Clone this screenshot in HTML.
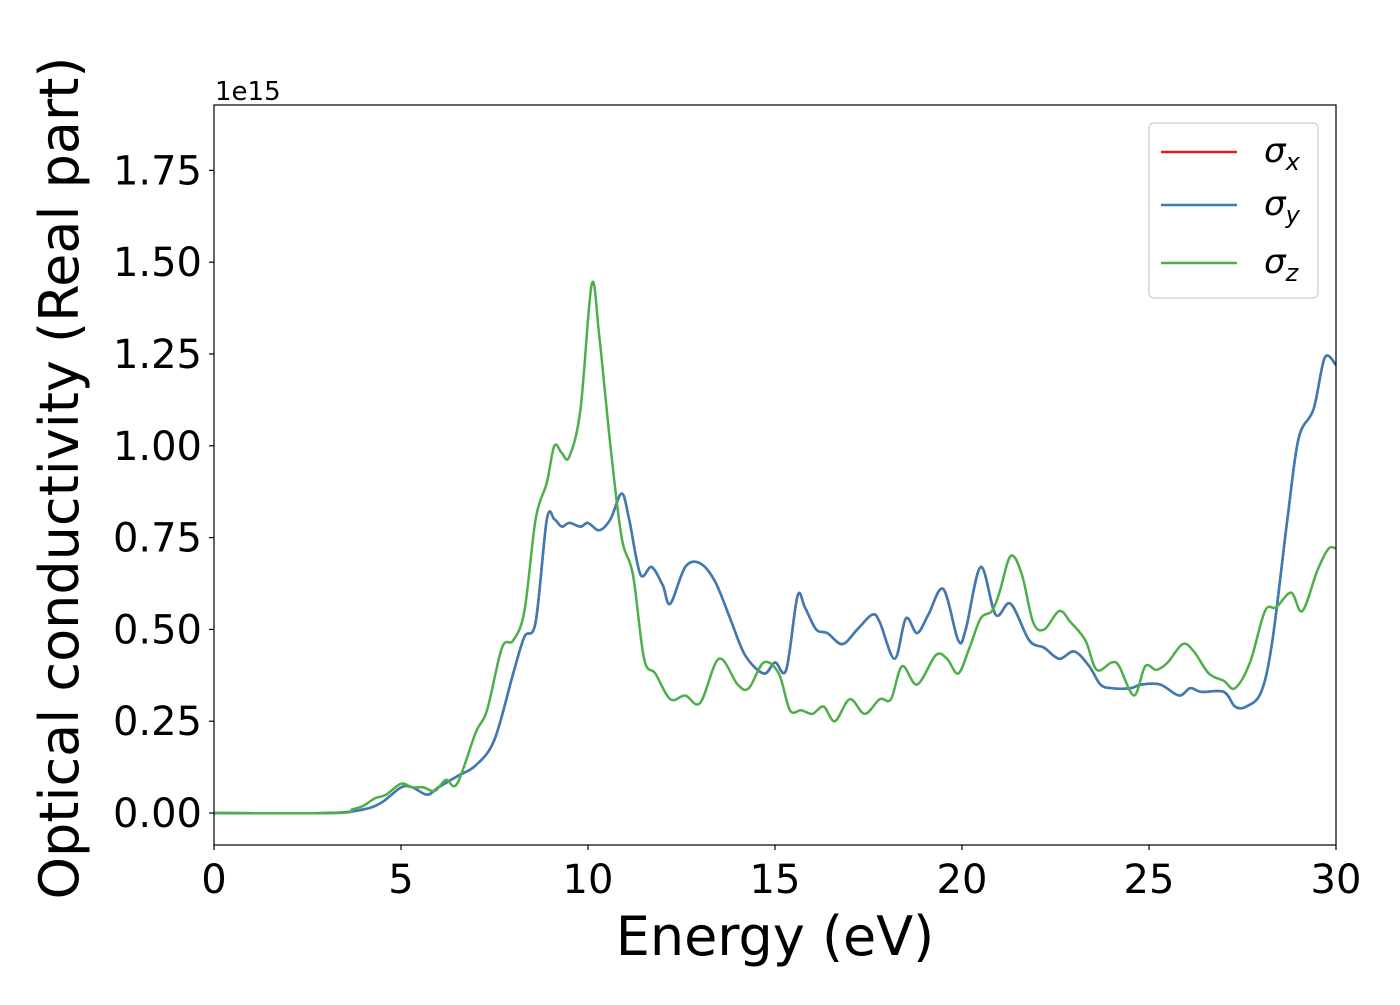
<!DOCTYPE html>
<html><head><meta charset="utf-8"><style>
body{margin:0;background:#fff;}
svg text{font-family:"DejaVu Sans","Liberation Sans",sans-serif;fill:#000;}
</style></head><body>
<svg id="chart" width="1400" height="1000" xmlns="http://www.w3.org/2000/svg">
<g id="plot"></g>
</svg>
<script>
const blueX=[0,3,4,4.5,5,5.3,5.7,6,6.5,7,7.5,8,8.3,8.6,8.9,9.1,9.3,9.5,9.8,10,10.3,10.6,10.9,11.1,11.4,11.7,12.0,12.2,12.6,13,13.4,13.8,14.2,14.7,15.0,15.3,15.6,15.8,16.1,16.4,16.8,17.2,17.6,17.8,18.2,18.5,18.8,19.1,19.5,19.9,20.1,20.5,20.9,21.3,21.8,22.2,22.6,23,23.4,23.7,24,24.5,24.8,25.3,25.8,26.1,26.4,27,27.3,27.6,28,28.3,28.7,29,29.4,29.7,30];
const blueY=[0,0,0.01,0.03,0.07,0.07,0.05,0.07,0.1,0.13,0.2,0.38,0.48,0.52,0.8,0.8,0.78,0.79,0.78,0.79,0.77,0.8,0.87,0.8,0.65,0.67,0.62,0.57,0.67,0.68,0.63,0.53,0.43,0.38,0.41,0.39,0.59,0.56,0.5,0.49,0.46,0.5,0.54,0.52,0.42,0.53,0.49,0.54,0.61,0.47,0.5,0.67,0.54,0.57,0.47,0.45,0.42,0.44,0.4,0.35,0.34,0.34,0.35,0.35,0.32,0.34,0.33,0.33,0.29,0.29,0.33,0.47,0.8,1.02,1.1,1.24,1.22];
const greenX=[0,3.3,3.7,4,4.3,4.6,5,5.3,5.6,5.9,6.2,6.5,7.0,7.3,7.7,8,8.3,8.6,8.9,9.1,9.3,9.5,9.8,10.1,10.3,10.6,10.9,11.2,11.5,11.8,12.2,12.6,13,13.5,14,14.3,14.7,15.1,15.4,15.7,16,16.3,16.6,17,17.4,17.8,18.1,18.4,18.8,19.3,19.6,19.9,20.2,20.5,20.8,21.0,21.3,21.6,21.9,22.2,22.6,22.9,23.3,23.6,24,24.2,24.6,24.9,25.2,25.5,25.9,26.2,26.6,27,27.3,27.7,28.1,28.4,28.8,29.1,29.5,29.8,30];
const greenY=[0,0,0.01,0.02,0.04,0.05,0.08,0.07,0.07,0.06,0.09,0.08,0.22,0.28,0.45,0.47,0.55,0.8,0.9,1.0,0.98,0.97,1.1,1.44,1.3,1.0,0.75,0.65,0.42,0.38,0.31,0.32,0.3,0.42,0.35,0.34,0.41,0.38,0.28,0.28,0.27,0.29,0.25,0.31,0.27,0.31,0.31,0.4,0.35,0.43,0.42,0.38,0.45,0.53,0.55,0.6,0.7,0.65,0.52,0.5,0.55,0.52,0.47,0.39,0.41,0.4,0.32,0.4,0.39,0.41,0.46,0.44,0.38,0.36,0.34,0.41,0.55,0.56,0.6,0.55,0.66,0.72,0.72];
const xTicks=[0,5,10,15,20,25,30];
const yTicks=[0,0.25,0.5,0.75,1.0,1.25,1.5,1.75];
const yTickLabels=["0.00","0.25","0.50","0.75","1.00","1.25","1.50","1.75"];

const L=214,R=1336,T=105,B=845,xMin=0,xMax=30,yMin=-0.087,yMax=1.928;
const sx=v=>L+(v-xMin)/(xMax-xMin)*(R-L);
const sy=v=>B-(v-yMin)/(yMax-yMin)*(B-T);
const NS="http://www.w3.org/2000/svg";
const svg=document.getElementById('chart');
function mk(tag,attrs,parent){const e=document.createElementNS(NS,tag);for(const k in attrs)e.setAttribute(k,attrs[k]);(parent||svg).appendChild(e);return e;}
function pathD(xs,ys){const p=xs.map((x,i)=>[sx(x),sy(ys[i])]);let d='M'+p[0][0]+','+p[0][1];
for(let i=0;i<p.length-1;i++){const p0=p[i-1]||p[i],p1=p[i],p2=p[i+1],p3=p[i+2]||p2;const t=1/6;
d+=' C'+(p1[0]+(p2[0]-p0[0])*t)+','+(p1[1]+(p2[1]-p0[1])*t)+' '+(p2[0]-(p3[0]-p1[0])*t)+','+(p2[1]-(p3[1]-p1[1])*t)+' '+p2[0]+','+p2[1];}return d;}
const defs=mk('defs',{});const cp=mk('clipPath',{id:'clip'},defs);mk('rect',{x:L,y:T,width:R-L,height:B-T},cp);
let e;
e=mk('path',{d:pathD(blueX,blueY),fill:'none',stroke:'#e41a1c','stroke-width':2.5,'clip-path':'url(#clip)'});


e=mk('path',{d:pathD(blueX,blueY),fill:'none',stroke:'#377eb8','stroke-width':2.5,'clip-path':'url(#clip)'});


e=mk('path',{d:pathD(greenX,greenY),fill:'none',stroke:'#4daf4a','stroke-width':2.5,'clip-path':'url(#clip)'});


e=mk('rect',{x:L,y:T,width:R-L,height:B-T,fill:'none',stroke:'#000','stroke-width':1.2});


xTicks.forEach(v=>{const x=sx(v);
e=mk('line',{x1:x,x2:x,y1:B,y2:B+5,stroke:'#000','stroke-width':1.2});


e=mk('text',{x:x,y:B+48,'text-anchor':'middle','font-size':40});e.textContent=v;

});
yTicks.forEach((v,i)=>{const y=sy(v);
e=mk('line',{x1:L-5,x2:L,y1:y,y2:y,stroke:'#000','stroke-width':1.2});


e=mk('text',{x:L-12,y:y+14,'text-anchor':'end','font-size':40});e.textContent=yTickLabels[i];

});
e=mk('text',{x:215,y:100,'font-size':26});e.textContent='1e15';


e=mk('text',{x:775,y:955,'text-anchor':'middle','font-size':54});e.textContent='Energy (eV)';


e=mk('text',{x:0,y:0,'text-anchor':'middle','font-size':54,transform:'translate(78,478) rotate(-90)'});e.textContent='Optical conductivity (Real part)';


const lg=mk('g',{});


mk('rect',{x:1149,y:123,width:169,height:175,rx:5,fill:'#fff','fill-opacity':0.8,stroke:'#ccc','stroke-width':1.2},lg);
[['#e41a1c','x',152],['#377eb8','y',205],['#4daf4a','z',263]].forEach(([c,s,y])=>{
const g=mk('g',{},lg);


mk('line',{x1:1161,x2:1237,y1:y,y2:y,stroke:c,'stroke-width':2.5},g);
const t=mk('text',{x:1264,y:y+10,'font-size':34,'font-style':'italic'},g);
t.textContent='σ';
const sub=mk('tspan',{dy:8,'font-size':24},t);sub.textContent=s;});
</script>
</body></html>
